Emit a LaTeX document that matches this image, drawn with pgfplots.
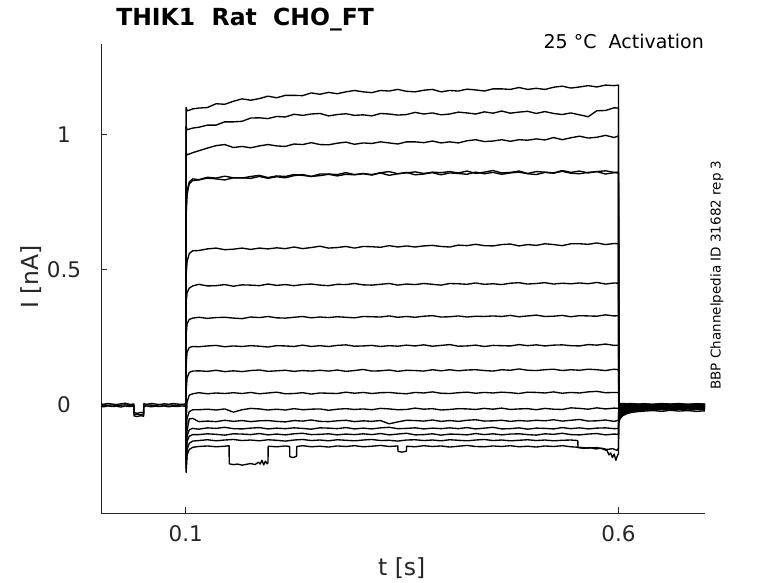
\documentclass[border=0pt]{standalone}
\usepackage{pgfplots}
\pgfplotsset{compat=1.18}
\usepackage{pgfplotstable}
\usepackage{fontspec}
\setmainfont{DejaVu Sans}
\definecolor{axgray}{RGB}{38,38,38}
\pgfplotsset{tr/.style={black, line width=1.35bp, line join=round}}

\pgfplotstableread{
t u1 u2 u3
0 0.004 -0.001 -0.005
0.005 0.002 0.001 -0.007
0.010 0.005 -0.002 -0.004
0.015 0.003 0.000 -0.006
0.020 0.001 -0.003 -0.005
0.025 0.004 -0.001 -0.008
0.030 0.006 0.000 -0.004
0.035 0.002 -0.002 -0.006
0.040 0.003 -0.001 -0.005
0.0403 -0.029 -0.035 -0.041
0.044 -0.031 -0.034 -0.043
0.048 -0.028 -0.037 -0.040
0.0512 -0.030 -0.036 -0.042
0.0515 0.004 -0.002 -0.006
0.055 0.002 0.000 -0.004
0.060 0.005 -0.001 -0.007
0.065 0.003 -0.003 -0.005
0.070 0.001 0.001 -0.006
0.075 0.004 -0.002 -0.004
0.080 0.002 0.000 -0.007
0.085 0.005 -0.001 -0.005
0.090 0.003 -0.002 -0.006
0.095 0.002 0.001 -0.004
0.100 0.003 0.000 -0.005
}\pretab

\pgfplotstableread{
t a b c d e f g h i j k l m n o
0.1000 0.000 0.000 0.000 0.000 0.000 0.000 0.000 0.000 0.000 0.000 0.000 0.000 0.000 0.000 0.000
0.1004 1.100 1.030 0.935 0.700 0.720 0.480 0.380 0.260 0.150 0.050 -0.060 -0.120 -0.170 -0.200 -0.220
0.1015 1.088 1.018 0.925 0.790 0.780 0.530 0.415 0.300 0.195 0.100 0.010 -0.050 -0.095 -0.115 -0.135
0.1040 1.090 1.020 0.928 0.825 0.818 0.560 0.432 0.316 0.212 0.120 0.036 -0.025 -0.052 -0.092 -0.116
0.1080 1.095 1.024 0.933 0.836 0.830 0.570 0.440 0.321 0.216 0.125 0.041 -0.018 -0.050 -0.087 -0.110
0.115 1.098 1.027 0.940 0.833 0.832 0.571 0.446 0.324 0.215 0.126 0.045 -0.018 -0.062 -0.090 -0.110
0.125 1.100 1.035 0.950 0.842 0.839 0.577 0.440 0.320 0.218 0.124 0.041 -0.016 -0.060 -0.085 -0.107
0.135 1.114 1.035 0.959 0.839 0.836 0.580 0.441 0.323 0.220 0.128 0.044 -0.019 -0.062 -0.087 -0.109
0.145 1.112 1.047 0.963 0.846 0.832 0.574 0.445 0.324 0.215 0.123 0.042 -0.015 -0.057 -0.083 -0.112
0.155 1.123 1.047 0.952 0.840 0.840 0.576 0.439 0.321 0.218 0.126 0.045 -0.027 -0.061 -0.088 -0.107
0.165 1.132 1.049 0.956 0.839 0.840 0.580 0.444 0.319 0.216 0.123 0.042 -0.018 -0.058 -0.089 -0.108
0.175 1.127 1.061 0.951 0.845 0.838 0.575 0.443 0.325 0.219 0.127 0.046 -0.013 -0.062 -0.086 -0.110
0.185 1.133 1.062 0.958 0.849 0.845 0.580 0.441 0.323 0.217 0.129 0.041 -0.015 -0.059 -0.084 -0.106
0.195 1.142 1.059 0.963 0.841 0.838 0.577 0.447 0.327 0.214 0.124 0.044 -0.019 -0.058 -0.089 -0.111
0.205 1.136 1.067 0.958 0.847 0.844 0.581 0.442 0.322 0.219 0.126 0.047 -0.016 -0.061 -0.086 -0.108
0.215 1.145 1.065 0.956 0.845 0.840 0.578 0.445 0.321 0.218 0.128 0.041 -0.019 -0.063 -0.088 -0.111
0.225 1.145 1.075 0.965 0.852 0.848 0.584 0.441 0.324 0.216 0.124 0.042 -0.014 -0.058 -0.085 -0.107
0.235 1.144 1.071 0.963 0.849 0.852 0.578 0.445 0.327 0.221 0.127 0.045 -0.018 -0.060 -0.087 -0.105
0.245 1.154 1.076 0.970 0.845 0.845 0.582 0.447 0.322 0.216 0.125 0.040 -0.016 -0.056 -0.090 -0.110
0.255 1.149 1.078 0.963 0.854 0.848 0.587 0.443 0.325 0.219 0.128 0.044 -0.015 -0.061 -0.085 -0.109
0.265 1.156 1.069 0.962 0.854 0.853 0.580 0.441 0.323 0.216 0.125 0.043 -0.020 -0.062 -0.086 -0.107
0.275 1.151 1.074 0.968 0.852 0.847 0.582 0.446 0.326 0.220 0.129 0.042 -0.016 -0.059 -0.088 -0.111
0.285 1.158 1.077 0.972 0.859 0.853 0.586 0.445 0.324 0.222 0.124 0.047 -0.014 -0.057 -0.084 -0.108
0.295 1.163 1.071 0.964 0.852 0.851 0.580 0.449 0.322 0.217 0.127 0.043 -0.017 -0.062 -0.089 -0.110
0.305 1.158 1.073 0.969 0.856 0.855 0.586 0.444 0.327 0.218 0.131 0.046 -0.015 -0.059 -0.086 -0.107
0.315 1.155 1.069 0.967 0.852 0.850 0.585 0.443 0.326 0.220 0.125 0.042 -0.018 -0.061 -0.089 -0.110
0.325 1.163 1.078 0.973 0.859 0.858 0.583 0.446 0.325 0.216 0.126 0.045 -0.013 -0.058 -0.085 -0.106
0.335 1.161 1.076 0.969 0.863 0.849 0.589 0.449 0.329 0.219 0.129 0.046 -0.015 -0.070 -0.083 -0.111
0.345 1.167 1.072 0.965 0.855 0.855 0.584 0.443 0.324 0.217 0.124 0.043 -0.018 -0.063 -0.088 -0.108
0.355 1.160 1.074 0.973 0.858 0.860 0.588 0.447 0.327 0.221 0.128 0.041 -0.017 -0.057 -0.087 -0.105
0.365 1.158 1.082 0.973 0.862 0.851 0.584 0.445 0.324 0.218 0.127 0.046 -0.012 -0.058 -0.085 -0.111
0.375 1.164 1.076 0.970 0.856 0.854 0.588 0.449 0.328 0.222 0.125 0.044 -0.016 -0.060 -0.089 -0.110
0.385 1.167 1.080 0.976 0.861 0.859 0.590 0.446 0.330 0.217 0.130 0.048 -0.014 -0.056 -0.086 -0.107
0.395 1.158 1.073 0.969 0.859 0.851 0.586 0.443 0.325 0.220 0.126 0.043 -0.019 -0.061 -0.088 -0.112
0.405 1.163 1.076 0.973 0.863 0.858 0.584 0.449 0.326 0.223 0.130 0.042 -0.017 -0.058 -0.085 -0.108
0.415 1.161 1.083 0.969 0.858 0.856 0.591 0.448 0.329 0.217 0.126 0.045 -0.014 -0.061 -0.088 -0.109
0.425 1.168 1.080 0.977 0.865 0.853 0.589 0.446 0.325 0.218 0.129 0.047 -0.015 -0.057 -0.084 -0.111
0.435 1.165 1.076 0.981 0.856 0.861 0.594 0.451 0.328 0.221 0.130 0.043 -0.017 -0.055 -0.089 -0.106
0.445 1.161 1.084 0.974 0.861 0.855 0.589 0.446 0.327 0.216 0.127 0.046 -0.013 -0.060 -0.086 -0.110
0.455 1.169 1.079 0.976 0.867 0.860 0.588 0.448 0.329 0.220 0.125 0.044 -0.016 -0.059 -0.083 -0.107
0.465 1.169 1.087 0.981 0.858 0.853 0.593 0.445 0.327 0.219 0.130 0.047 -0.012 -0.057 -0.089 -0.111
0.475 1.167 1.079 0.975 0.860 0.858 0.595 0.450 0.331 0.218 0.128 0.045 -0.017 -0.061 -0.088 -0.108
0.485 1.174 1.083 0.981 0.865 0.861 0.588 0.452 0.326 0.223 0.133 0.042 -0.015 -0.058 -0.085 -0.107
0.495 1.167 1.086 0.979 0.856 0.855 0.593 0.447 0.329 0.219 0.128 0.047 -0.014 -0.060 -0.090 -0.110
0.505 1.171 1.078 0.984 0.863 0.852 0.590 0.449 0.332 0.222 0.127 0.046 -0.018 -0.057 -0.086 -0.112
0.515 1.167 1.085 0.980 0.861 0.860 0.596 0.452 0.327 0.218 0.130 0.044 -0.013 -0.059 -0.087 -0.107
0.525 1.175 1.078 0.989 0.858 0.857 0.593 0.447 0.328 0.221 0.132 0.048 -0.016 -0.055 -0.089 -0.109
0.535 1.179 1.074 0.981 0.867 0.864 0.589 0.450 0.331 0.222 0.127 0.043 -0.017 -0.060 -0.084 -0.105
0.545 1.172 1.080 0.988 0.860 0.857 0.596 0.448 0.326 0.219 0.130 0.046 -0.011 -0.057 -0.088 -0.110
0.555 1.176 1.073 0.994 0.865 0.855 0.596 0.451 0.330 0.218 0.128 0.044 -0.013 -0.054 -0.085 -0.111
0.565 1.181 1.066 0.987 0.858 0.860 0.594 0.448 0.329 0.223 0.132 0.048 -0.016 -0.060 -0.089 -0.108
0.575 1.176 1.088 0.990 0.863 0.863 0.599 0.453 0.328 0.221 0.130 0.050 -0.011 -0.059 -0.086 -0.106
0.585 1.183 1.089 0.997 0.866 0.854 0.593 0.447 0.333 0.225 0.127 0.045 -0.015 -0.056 -0.085 -0.111
0.595 1.181 1.099 0.989 0.860 0.859 0.597 0.451 0.329 0.220 0.132 0.046 -0.012 -0.061 -0.088 -0.108
0.6000 1.183 1.098 0.995 0.861 0.858 0.596 0.450 0.330 0.221 0.130 0.046 -0.013 -0.057 -0.087 -0.109
0.6004 -0.065 -0.058 -0.052 -0.047 -0.044 -0.038 -0.032 -0.027 -0.022 -0.017 -0.012 -0.007 -0.003 0.000 0.002
0.6020 -0.050 -0.045 -0.041 -0.037 -0.034 -0.030 -0.025 -0.021 -0.017 -0.013 -0.009 -0.005 -0.002 0.000 0.002
0.6050 -0.040 -0.036 -0.033 -0.029 -0.027 -0.023 -0.019 -0.016 -0.013 -0.010 -0.007 -0.004 -0.001 0.001 0.002
0.6100 -0.032 -0.028 -0.026 -0.023 -0.021 -0.018 -0.015 -0.013 -0.010 -0.008 -0.006 -0.003 -0.001 0.000 0.003
0.6150 -0.028 -0.024 -0.022 -0.019 -0.018 -0.015 -0.012 -0.011 -0.008 -0.006 -0.005 -0.002 0.000 0.001 0.002
0.6220 -0.025 -0.021 -0.019 -0.016 -0.015 -0.013 -0.010 -0.009 -0.007 -0.005 -0.004 -0.002 -0.001 0.000 0.001
0.6300 -0.023 -0.019 -0.018 -0.014 -0.015 -0.011 -0.009 -0.010 -0.006 -0.006 -0.003 -0.003 0.001 -0.001 0.002
0.6400 -0.021 -0.020 -0.015 -0.016 -0.012 -0.012 -0.007 -0.008 -0.008 -0.003 -0.005 0.000 -0.002 0.002 0.000
0.6500 -0.024 -0.017 -0.017 -0.012 -0.014 -0.009 -0.010 -0.006 -0.005 -0.005 -0.002 -0.002 0.001 -0.001 0.003
0.6600 -0.020 -0.019 -0.014 -0.015 -0.011 -0.011 -0.008 -0.009 -0.007 -0.002 -0.004 0.001 -0.001 0.001 0.001
0.6700 -0.023 -0.016 -0.016 -0.013 -0.013 -0.008 -0.009 -0.005 -0.004 -0.005 -0.001 -0.002 0.002 -0.001 0.002
0.6800 -0.021 -0.019 -0.013 -0.014 -0.010 -0.011 -0.006 -0.008 -0.007 -0.003 -0.004 0.000 -0.001 0.002 0.000
0.6900 -0.024 -0.017 -0.016 -0.012 -0.013 -0.009 -0.009 -0.006 -0.005 -0.004 -0.002 -0.002 0.001 0.000 0.003
0.7000 -0.022 -0.018 -0.014 -0.013 -0.012 -0.010 -0.007 -0.007 -0.006 -0.003 -0.003 -0.001 0.000 0.001 0.002
}\pulsetab

\begin{document}
\begin{tikzpicture}
\path[use as bounding box] (0,0) rectangle (778bp,583bp);
\begin{axis}[
  at={(101bp,70bp)}, anchor=south west,
  scale only axis, width=604bp, height=469bp,
  xmin=0.002, xmax=0.7, ymin=-0.4, ymax=1.335,
  axis x line*=bottom, axis y line*=left,
  axis line style={-, axgray, line width=0.7bp},
  xtick={0.1,0.6}, xticklabels={0.1,0.6},
  ytick={0,0.5,1}, yticklabels={0,0.5,1},
  tick align=inside, major tick length=6bp,
  tick style={axgray, line width=0.7bp},
  ticklabel style={font=\fontsize{21.5bp}{25bp}\selectfont, text=axgray},
  yticklabel style={anchor=center, xshift=-37bp},
  xticklabel style={anchor=center, yshift=-21bp},
  xlabel={t [s]}, ylabel={I [nA]},
  xlabel style={at={(axis description cs:0.498,-0.117)}, anchor=center,
    font=\fontsize{23.5bp}{28bp}\selectfont, text=axgray},
  ylabel style={at={(axis description cs:-0.116,0.503)}, anchor=center,
    font=\fontsize{23.5bp}{28bp}\selectfont, text=axgray},
  title={THIK1\ \ Rat\ \ CHO\_FT},
  title style={at={(axis description cs:0.0195,1.0554)}, anchor=west, yshift=-8bp,
    font=\bfseries\fontsize{23.5bp}{28bp}\selectfont},
]
\addplot[tr] table[x=t, y=u1] {\pretab};
\addplot[tr] table[x=t, y=u2] {\pretab};
\addplot[tr] table[x=t, y=u3] {\pretab};
\addplot[tr] table[x=t, y=a] {\pulsetab};
\addplot[tr] table[x=t, y=b] {\pulsetab};
\addplot[tr] table[x=t, y=c] {\pulsetab};
\addplot[tr] table[x=t, y=d] {\pulsetab};
\addplot[tr] table[x=t, y=e] {\pulsetab};
\addplot[tr] table[x=t, y=f] {\pulsetab};
\addplot[tr] table[x=t, y=g] {\pulsetab};
\addplot[tr] table[x=t, y=h] {\pulsetab};
\addplot[tr] table[x=t, y=i] {\pulsetab};
\addplot[tr] table[x=t, y=j] {\pulsetab};
\addplot[tr] table[x=t, y=k] {\pulsetab};
\addplot[tr] table[x=t, y=l] {\pulsetab};
\addplot[tr] table[x=t, y=m] {\pulsetab};
\addplot[tr] table[x=t, y=n] {\pulsetab};
\addplot[tr] table[x=t, y=o] {\pulsetab};
% trace p
\addplot[tr] coordinates {
(0.1000,0.000) (0.1004,-0.235) (0.1015,-0.165) (0.1040,-0.142) (0.1080,-0.134)
(0.115,-0.132) (0.125,-0.129) (0.135,-0.133) (0.145,-0.130) (0.155,-0.128)
(0.165,-0.132) (0.175,-0.130) (0.185,-0.133) (0.195,-0.129) (0.205,-0.131)
(0.215,-0.134) (0.225,-0.130) (0.235,-0.128) (0.245,-0.132) (0.255,-0.130)
(0.265,-0.133) (0.275,-0.129) (0.285,-0.131) (0.295,-0.133) (0.305,-0.130)
(0.315,-0.128) (0.325,-0.132) (0.335,-0.131) (0.345,-0.134) (0.355,-0.130)
(0.365,-0.129) (0.375,-0.132) (0.385,-0.130) (0.395,-0.133) (0.405,-0.129)
(0.415,-0.131) (0.425,-0.133) (0.435,-0.130) (0.445,-0.128) (0.455,-0.132)
(0.465,-0.130) (0.475,-0.133) (0.485,-0.131) (0.495,-0.129) (0.505,-0.132)
(0.515,-0.130) (0.525,-0.133) (0.535,-0.131) (0.545,-0.130) (0.5530,-0.132)
(0.5532,-0.158) (0.560,-0.161) (0.567,-0.158) (0.574,-0.163) (0.580,-0.160)
(0.587,-0.165) (0.593,-0.162) (0.5985,-0.168) (0.6000,-0.160)
(0.6004,0.004) (0.6020,0.004) (0.6050,0.003) (0.6100,0.004) (0.6150,0.003)
(0.6220,0.002) (0.6300,0.003) (0.6400,0.001) (0.6500,0.004) (0.6600,0.002)
(0.6700,0.004) (0.6800,0.001) (0.6900,0.003) (0.7000,0.002)
};
% trace q
\addplot[tr] coordinates {
(0.1000,0.000) (0.1004,-0.250) (0.1015,-0.185) (0.1040,-0.165) (0.1080,-0.157)
(0.115,-0.154) (0.125,-0.152) (0.135,-0.155) (0.145,-0.153) (0.1500,-0.151)
(0.1502,-0.218) (0.155,-0.221) (0.160,-0.219) (0.165,-0.223) (0.170,-0.220)
(0.175,-0.217) (0.180,-0.221) (0.184,-0.212) (0.186,-0.219) (0.188,-0.205)
(0.190,-0.222) (0.192,-0.208) (0.194,-0.218) (0.1950,-0.214) (0.1952,-0.153)
(0.205,-0.155) (0.215,-0.152) (0.2200,-0.154) (0.2202,-0.192) (0.224,-0.195)
(0.2280,-0.190) (0.2282,-0.154) (0.235,-0.151) (0.245,-0.155) (0.255,-0.153)
(0.265,-0.156) (0.275,-0.152) (0.285,-0.154) (0.295,-0.151) (0.305,-0.155)
(0.315,-0.153) (0.325,-0.150) (0.335,-0.154) (0.3450,-0.152) (0.3452,-0.172)
(0.350,-0.175) (0.3550,-0.171) (0.3552,-0.153) (0.365,-0.155) (0.375,-0.151)
(0.385,-0.154) (0.395,-0.152) (0.405,-0.156) (0.415,-0.153) (0.425,-0.150)
(0.435,-0.154) (0.445,-0.155) (0.455,-0.152) (0.465,-0.154) (0.475,-0.151)
(0.485,-0.155) (0.495,-0.153) (0.505,-0.156) (0.515,-0.152) (0.525,-0.154)
(0.535,-0.151) (0.545,-0.155) (0.555,-0.157) (0.565,-0.160) (0.575,-0.158)
(0.582,-0.163) (0.587,-0.170) (0.589,-0.185) (0.591,-0.178) (0.593,-0.195)
(0.595,-0.182) (0.597,-0.205) (0.5985,-0.190) (0.6000,-0.180)
(0.6004,0.006) (0.6020,0.005) (0.6050,0.005) (0.6100,0.004) (0.6150,0.005)
(0.6220,0.003) (0.6300,0.004) (0.6400,0.002) (0.6500,0.005) (0.6600,0.003)
(0.6700,0.005) (0.6800,0.002) (0.6900,0.004) (0.7000,0.003)
};
\end{axis}
\node[anchor=east, inner sep=0pt, font=\fontsize{19bp}{22bp}\selectfont] at (704bp,542bp) {25 °C\ \ Activation};
\node[rotate=90, inner sep=0pt, font=\fontsize{13.5bp}{16bp}\selectfont] at (717bp,308bp) {BBP Channelpedia ID 31682 rep 3};
\end{tikzpicture}
\end{document}
